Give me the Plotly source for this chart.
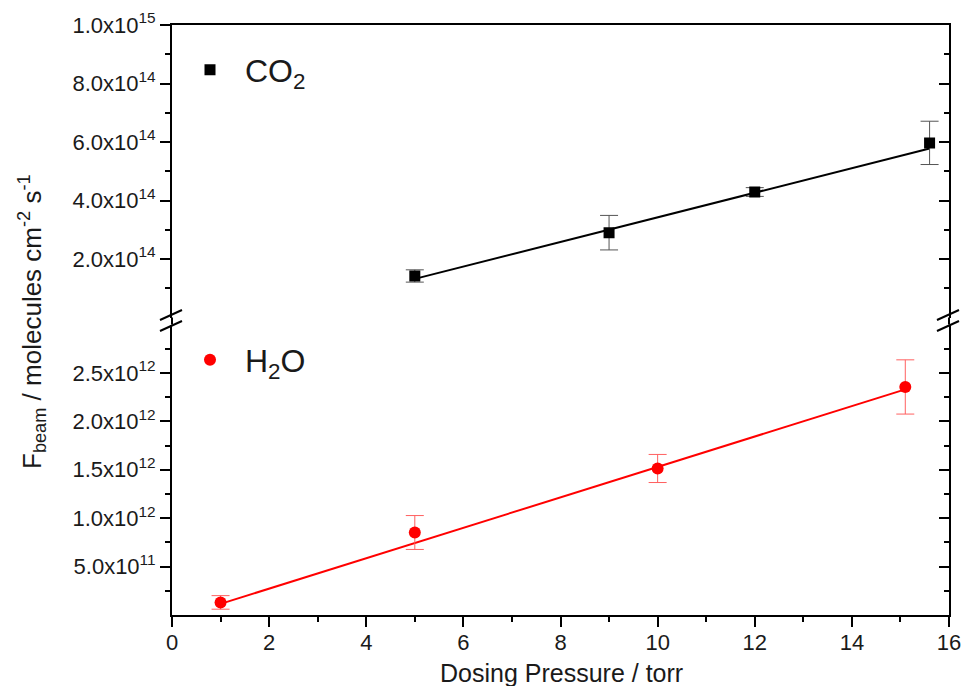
import plotly.graph_objects as go

# ---------------- data ----------------
co2_x = [5, 9, 12, 15.6]
co2_y = [1.42e14, 2.90e14, 4.29e14, 5.97e14]
co2_err = [0.21e14, 0.59e14, 0.15e14, 0.74e14]
co2_fit_x = [5, 15.6]
co2_fit_y = [1.32e14, 5.78e14]

h2o_x = [1, 5, 10, 15.1]
h2o_y = [0.13e12, 0.852e12, 1.513e12, 2.355e12]
h2o_err = [0.07e12, 0.175e12, 0.145e12, 0.28e12]
h2o_fit_x = [1, 15.1]
h2o_fit_y = [0.115e12, 2.33e12]

x_ticks = [0, 2, 4, 6, 8, 10, 12, 14, 16]
x_minor = [1, 3, 5, 7, 9, 11, 13, 15]
top_ticks = [2e14, 4e14, 6e14, 8e14, 1e15]
top_ticktext = ["2.0x10<sup>14</sup>", "4.0x10<sup>14</sup>", "6.0x10<sup>14</sup>",
                "8.0x10<sup>14</sup>", "1.0x10<sup>15</sup>"]
top_minor = [1e14, 3e14, 5e14, 7e14, 9e14]
bot_ticks = [0.5e12, 1.0e12, 1.5e12, 2.0e12, 2.5e12]
bot_ticktext = ["5.0x10<sup>11</sup>", "1.0x10<sup>12</sup>", "1.5x10<sup>12</sup>",
                "2.0x10<sup>12</sup>", "2.5x10<sup>12</sup>"]
bot_minor = [0.25e12, 0.75e12, 1.25e12, 1.75e12, 2.25e12, 2.75e12]

FONT = "Arial, Liberation Sans, sans-serif"
TXT = "#1a1a1a"

# pixel geometry helpers (figure 964x686)
L, R, T, B = 172, 15, 25, 71
W, H = 964, 686
PW, PH = W - L - R, H - T - B


def px(xp):
    return (xp - L) / PW


def py(yp):
    return (H - B - yp) / PH


top_dom = [py(317.5), 1.0]
bot_dom = [0.0, py(324.5)]

fig = go.Figure()

# CO2 (top panel)
fig.add_trace(go.Scatter(x=co2_fit_x, y=co2_fit_y, mode="lines",
                         line=dict(color="black", width=2),
                         xaxis="x2", yaxis="y2", showlegend=False, hoverinfo="skip"))
fig.add_trace(go.Scatter(x=co2_x, y=co2_y, mode="markers", name="CO<sub>2</sub>",
                         marker=dict(symbol="square", size=11, color="black"),
                         error_y=dict(type="data", array=co2_err, color="#555555",
                                      thickness=1, width=9),
                         xaxis="x2", yaxis="y2", legend="legend"))

# H2O (bottom panel)
fig.add_trace(go.Scatter(x=h2o_fit_x, y=h2o_fit_y, mode="lines",
                         line=dict(color="#ff0000", width=2),
                         xaxis="x", yaxis="y", showlegend=False, hoverinfo="skip"))
fig.add_trace(go.Scatter(x=h2o_x, y=h2o_y, mode="markers", name="H<sub>2</sub>O",
                         marker=dict(symbol="circle", size=12, color="#ff0000"),
                         error_y=dict(type="data", array=h2o_err, color="#ff6060",
                                      thickness=1, width=9),
                         xaxis="x", yaxis="y", legend="legend2"))

# invisible carriers so the right-hand (mirror) axes get drawn
fig.add_trace(go.Scatter(x=co2_x, y=co2_y, mode="markers", marker=dict(opacity=0),
                         xaxis="x2", yaxis="y4", showlegend=False, hoverinfo="skip"))
fig.add_trace(go.Scatter(x=h2o_x, y=h2o_y, mode="markers", marker=dict(opacity=0),
                         xaxis="x", yaxis="y3", showlegend=False, hoverinfo="skip"))

axis_common = dict(showline=True, linecolor="black", linewidth=2, showgrid=False,
                   zeroline=False, tickcolor="black", tickwidth=1.5, automargin=False,
                   tickfont=dict(family=FONT, size=22, color=TXT))
minor_common = dict(tickmode="array", ticklen=5, tickcolor="black", tickwidth=1.5)

fig.update_layout(
    width=W, height=H,
    margin=dict(l=L, r=R, t=T, b=B, autoexpand=False),
    paper_bgcolor="white", plot_bgcolor="white",
    font=dict(family=FONT, color=TXT),
    xaxis=dict(axis_common, domain=[0, 1], range=[0, 16], anchor="y",
               tickmode="array", tickvals=x_ticks, ticks="outside", ticklen=10,
               ticklabelstandoff=-3,
               minor=dict(minor_common, tickvals=x_minor, ticks="outside")),
    xaxis2=dict(axis_common, domain=[0, 1], range=[0, 16], anchor="y2", side="top",
                matches="x", showticklabels=False, ticks=""),
    yaxis=dict(axis_common, domain=bot_dom, range=[0, 3.0e12], anchor="x",
               tickmode="array", tickvals=bot_ticks, ticktext=bot_ticktext,
               ticks="outside", ticklen=10,
               minor=dict(minor_common, tickvals=bot_minor, ticks="outside")),
    yaxis2=dict(axis_common, domain=top_dom, range=[0, 1e15], anchor="x2",
                tickmode="array", tickvals=top_ticks, ticktext=top_ticktext,
                ticks="outside", ticklen=10,
                minor=dict(minor_common, tickvals=top_minor, ticks="outside")),
    yaxis3=dict(axis_common, overlaying="y", side="right", anchor="x",
                range=[0, 3.0e12], showticklabels=False,
                tickmode="array", tickvals=bot_ticks, ticks="inside", ticklen=10,
                minor=dict(minor_common, tickvals=bot_minor, ticks="inside")),
    yaxis4=dict(axis_common, overlaying="y2", side="right", anchor="x2",
                range=[0, 1e15], showticklabels=False,
                tickmode="array", tickvals=top_ticks, ticks="inside", ticklen=10,
                minor=dict(minor_common, tickvals=top_minor, ticks="inside")),
    legend=dict(x=px(175), y=py(70), xanchor="left", yanchor="middle",
                bgcolor="rgba(0,0,0,0)", borderwidth=0, itemwidth=60,
                font=dict(family=FONT, size=32, color=TXT)),
    legend2=dict(x=px(175), y=py(360), xanchor="left", yanchor="middle",
                 bgcolor="rgba(0,0,0,0)", borderwidth=0, itemwidth=60,
                 font=dict(family=FONT, size=32, color=TXT)),
    showlegend=True,
)

# axis-break marks and the short connecting axis segment
shapes = []
for xp in (L, W - R):
    shapes.append(dict(type="line", xref="paper", yref="paper",
                       x0=px(xp), x1=px(xp), y0=py(317.5), y1=py(324.5),
                       line=dict(color="black", width=2)))
    for off in (0, 11):
        shapes.append(dict(type="line", xref="paper", yref="paper",
                           x0=px(xp - 12), y0=py(320 + off),
                           x1=px(xp + 10), y1=py(310 + off),
                           line=dict(color="black", width=2)))
fig.update_layout(shapes=shapes)

# axis titles
fig.add_annotation(text="F<sub>beam</sub> / molecules cm<sup>-2</sup> s<sup>-1</sup>",
                   xref="paper", yref="paper", x=px(32), y=py(322),
                   xanchor="center", yanchor="middle", textangle=-90, showarrow=False,
                   font=dict(family=FONT, size=26, color=TXT))
fig.add_annotation(text="Dosing Pressure / torr",
                   xref="paper", yref="paper", x=px(561), y=py(673),
                   xanchor="center", yanchor="middle", showarrow=False,
                   font=dict(family=FONT, size=25, color=TXT))

fig.write_html("out.html")
